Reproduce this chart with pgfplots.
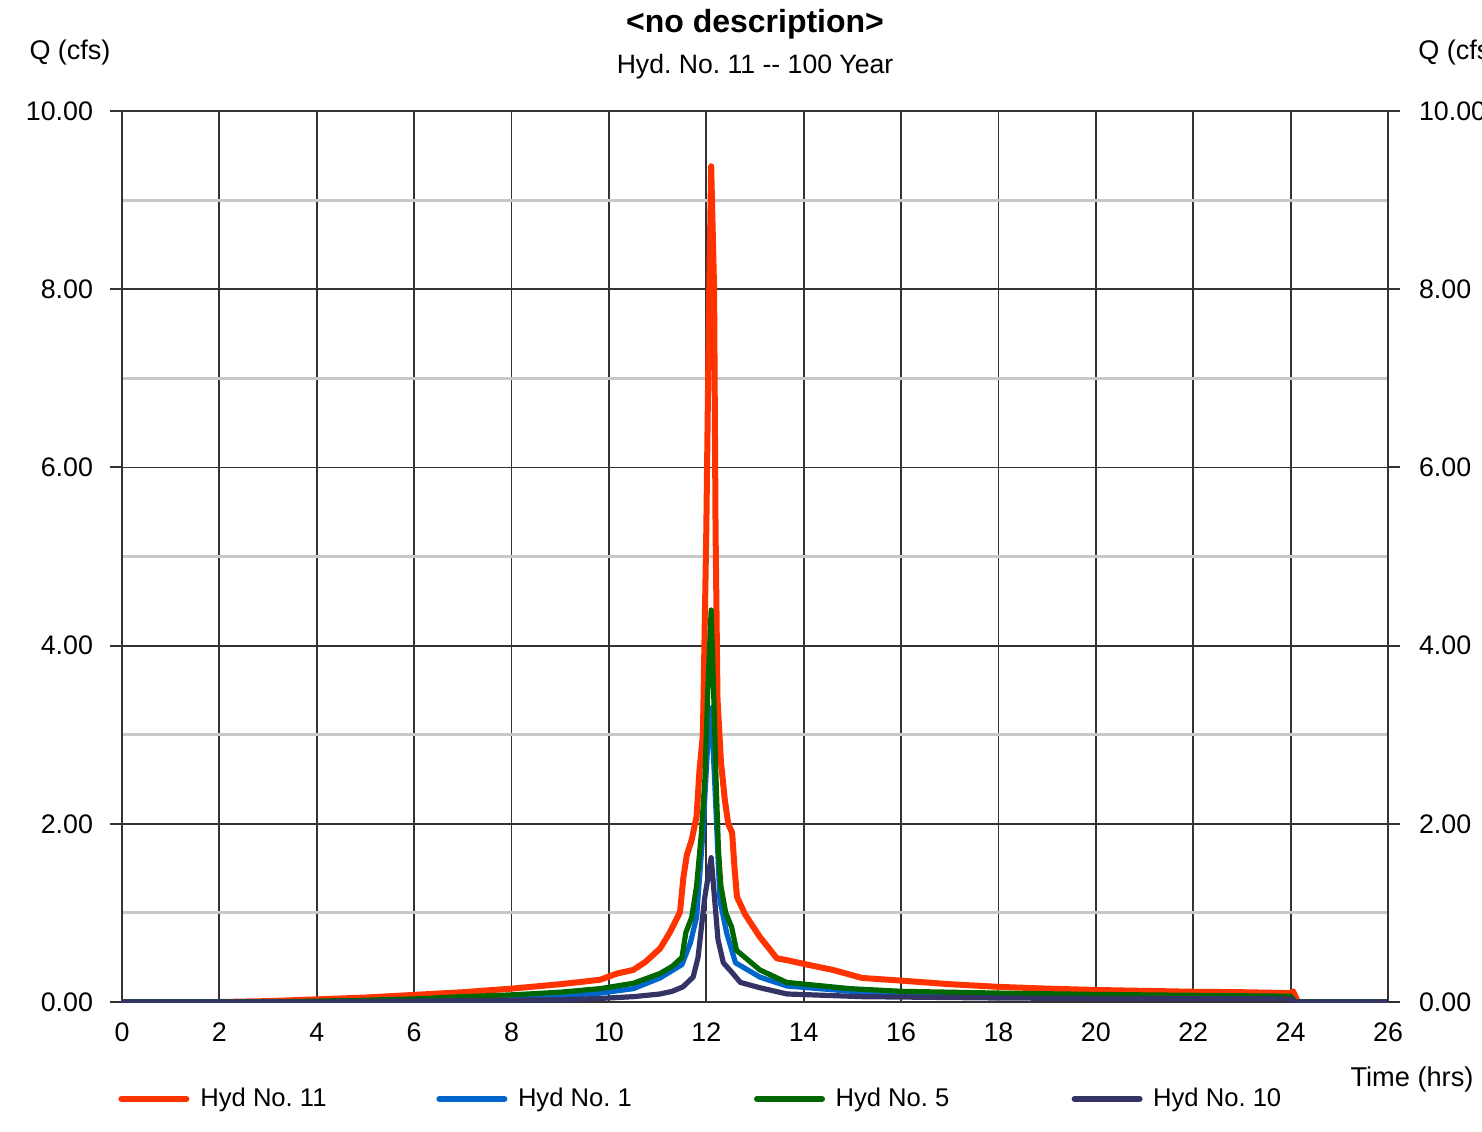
\documentclass[border=0pt]{standalone}
\usepackage{fontspec}
\setmainfont{Liberation Sans}
\usepackage{pgfplots}
\pgfplotsset{compat=1.18}

\definecolor{hydred}{HTML}{FF3300}
\definecolor{hydblue}{HTML}{0066CC}
\definecolor{hydgreen}{HTML}{006600}
\definecolor{hydpurple}{HTML}{333366}
\definecolor{gridgray}{HTML}{C8C8C8}
\definecolor{griddark}{HTML}{333333}

\pgfplotsset{
  hydaxis/.style={
    at={(0,0)}, anchor=south west,
    scale only axis,
    width=633pt, height=445.5pt,
    xmin=0, xmax=26, ymin=0, ymax=10,
    xtick={0,2,...,26},
    ytick={0,2,...,10},
    minor ytick={1,3,...,9},
    tick align=outside,
    major tick length=6pt,
    minor tick length=0pt,
    xtick style={draw=none},
    ytick style={griddark, line width=1pt},
    /pgf/number format/assume math mode=true,
    ticklabel style={font=\fontsize{13.4}{15}\selectfont},
    yticklabel={\pgfmathprintnumber[fixed,fixed zerofill,precision=2]{\tick}},
    axis line style={griddark, line width=1pt},
  },
}

\begin{document}
\frenchspacing
\begin{tikzpicture}
\begin{axis}[
  hydaxis,
  xticklabel style={yshift=-1pt},
  yticklabel style={xshift=-5pt},
  grid=both,
  major grid style={griddark, line width=0.9pt},
  minor grid style={gridgray, line width=1.5pt},
  legend columns=4,
  legend style={at={(rel axis cs:0,0)}, anchor=west, yshift=-48.5pt, xshift=-5pt,
    draw=none, fill=none, font=\fontsize{12.8}{15}\selectfont,
    /tikz/every even column/.append style={column sep=0pt}},
  legend cell align=left,
  legend image code/.code={\draw[#1, line width=3pt, line cap=round] (0pt,0pt) -- (32.5pt,0pt); \path (36pt,0pt);},
  line join=round,
]

% Hyd No. 11
\addplot[hydred, line width=3pt] coordinates {
  (0,0) (2,0) (3,0.01) (4,0.03) (5,0.05) (6,0.08) (7,0.11) (8,0.15) (9,0.2)
  (9.5,0.23) (9.82,0.25) (10.17,0.32) (10.5,0.36) (10.75,0.45) (11.05,0.6)
  (11.25,0.78) (11.46,1.01) (11.53,1.4) (11.6,1.65) (11.7,1.82) (11.8,2.08)
  (11.86,2.6) (11.93,3.0) (11.97,4.3) (12.0,5.3) (12.06,8.0) (12.1,9.38)
  (12.16,8.0) (12.19,5.3) (12.23,3.4) (12.3,2.7) (12.38,2.27) (12.45,2.0)
  (12.53,1.9) (12.58,1.5) (12.63,1.18) (12.8,0.98) (13.1,0.73) (13.45,0.49)
  (13.65,0.47) (14.07,0.42) (14.6,0.36) (15.2,0.27) (16,0.24) (17,0.2)
  (18,0.17) (19,0.15) (20,0.135) (21,0.125) (22,0.115) (23,0.11) (24.0,0.1)
  (24.05,0.12) (24.15,0) (26,0)
};
\addlegendentry{\makebox[116pt][l]{Hyd No. 11}}

% Hyd No. 1
\addplot[hydblue, line width=2.6pt] coordinates {
  (0,0) (3,0) (4,0.005) (6,0.02) (8,0.05) (9,0.07) (9.82,0.1) (10.5,0.15)
  (11.05,0.27) (11.5,0.42) (11.67,0.66) (11.8,0.95) (11.93,1.9) (12.02,2.8)
  (12.1,3.3) (12.17,2.5) (12.28,1.14) (12.42,0.77) (12.6,0.44) (13.1,0.28)
  (13.65,0.18) (15.2,0.11) (18,0.08) (20,0.07) (24,0.06) (24.1,0) (26,0)
};
\addlegendentry{\makebox[116pt][l]{Hyd No. 1}}

% Hyd No. 5
\addplot[hydgreen, line width=2.6pt] coordinates {
  (0,0) (3,0) (4,0.01) (5,0.02) (6,0.035) (7,0.06) (8,0.08) (9,0.11)
  (9.82,0.15) (10.5,0.21) (11.05,0.32) (11.3,0.4) (11.5,0.5) (11.58,0.78)
  (11.7,0.95) (11.8,1.3) (11.9,1.9) (11.97,2.5) (12.03,3.5) (12.1,4.4)
  (12.15,3.5) (12.2,2.5) (12.25,1.7) (12.3,1.3) (12.4,1.0) (12.52,0.84)
  (12.62,0.58) (13.1,0.36) (13.65,0.22) (14.95,0.15) (16,0.12) (18,0.1)
  (20,0.085) (22,0.075) (24,0.065) (24.1,0) (26,0)
};
\addlegendentry{\makebox[116pt][l]{Hyd No. 5}}

% Hyd No. 10
\addplot[hydpurple, line width=2.6pt] coordinates {
  (0,0) (4,0) (6,0.01) (8,0.02) (9,0.025) (9.82,0.04) (10.5,0.06) (11.05,0.09)
  (11.3,0.12) (11.52,0.17) (11.73,0.28) (11.83,0.5) (11.97,1.18) (12.1,1.62)
  (12.24,0.7) (12.35,0.44) (12.53,0.33) (12.7,0.22) (13.1,0.16) (13.5,0.11)
  (13.66,0.09) (15.2,0.06) (18,0.045) (20,0.04) (24,0.035) (24.1,0) (26,0)
};
\addlegendentry{Hyd No. 10}

\end{axis}

% right-hand value axis
\begin{axis}[
  hydaxis,
  axis x line=none,
  axis y line*=right,
  yticklabel style={xshift=6pt, anchor=west},
]
\end{axis}

\node[font=\fontsize{16}{19}\selectfont\bfseries] at (316.5pt,489pt) {<no description>};
\node[font=\fontsize{13.3}{16}\selectfont] at (316.5pt,467.5pt) {Hyd. No. 11 -{}- 100 Year};
\node[font=\fontsize{13.5}{16}\selectfont] at (-26pt,474.5pt) {Q (cfs)};
\node[font=\fontsize{13.5}{16}\selectfont, anchor=west, inner sep=0pt] at (648pt,474.5pt) {Q (cfs)};
\node[font=\fontsize{13.6}{16}\selectfont] at (645pt,-38.5pt) {Time (hrs)};

\pgfresetboundingbox
\useasboundingbox (-61pt,-64.5pt) rectangle (680pt,501pt);
\end{tikzpicture}
\end{document}
